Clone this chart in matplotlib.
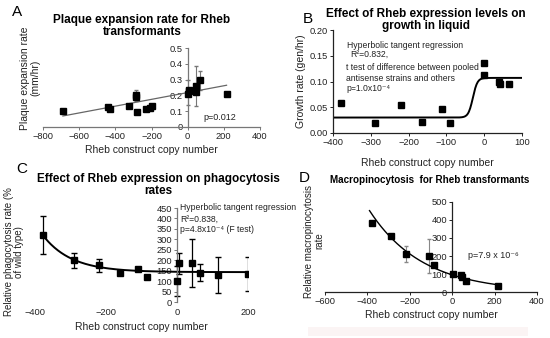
import numpy as np
import matplotlib
matplotlib.use("Agg")
import matplotlib.pyplot as plt
from matplotlib.patches import Rectangle

plt.rcParams['font.family'] = ['Liberation Sans', 'DejaVu Sans']

# ---- panel A: plaque expansion ----
a_x = [-690, -440, -430, -325, -285, -283, -280, -230, -210, -195, 0, 5, 8, 45, 48, 68, 215]
a_y = [0.10, 0.125, 0.115, 0.13, 0.19, 0.20, 0.095, 0.115, 0.12, 0.13, 0.21, 0.235, 0.225, 0.22, 0.26, 0.295, 0.21]
a_err_x = [-283, 0, 48, 68]
a_err_y = [0.20, 0.22, 0.26, 0.295]
a_err = [0.035, 0.08, 0.125, 0.06]
a_fit = [0.000215, 0.218]  # slope, intercept
a_fit_range = [-690, 215]

# ---- panel B: growth in liquid ----
b_x = [-380, -290, -220, -165, -112, -90, 0, 0, 40, 42, 65]
b_y = [0.058, 0.020, 0.055, 0.022, 0.046, 0.020, 0.135, 0.113, 0.100, 0.095, 0.095]
b_fit = [0.0685, 0.0385, -30, 12]  # mid, amp, centre, width (tanh)

# ---- panel C: phagocytosis ----
c_x = [-378, -290, -220, -160, -110, -85, 0, 5, 42, 65, 115, 200]
c_y = [320, 200, 175, 138, 158, 118, 100, 185, 185, 140, 130, 135]
c_err = [90, 35, 30, 0, 0, 0, 70, 50, 115, 40, 85, 80]
c_fit = [143, 177, -378, 80]  # plateau, amp, start, decay

# ---- panel D: macropinocytosis ----
d_x = [-380, -290, -220, -110, -85, 5, 40, 45, 65, 215]
d_y = [385, 310, 210, 200, 150, 98, 95, 85, 60, 35]
d_err_x = [-220, -110]
d_err_y = [210, 200]
d_err = [45, 95]
d_fit = [95, 250]  # amp, decay
d_fit_range = [-390, 220]

W, H = 550, 338
fig = plt.figure(figsize=(5.5, 3.38), dpi=100)


def px_axes(x0, y0, x1, y1):
    return fig.add_axes([x0 / W, 1 - y1 / H, (x1 - x0) / W, (y1 - y0) / H])


def ftext(x, y, s, **kw):
    fig.text(x / W, 1 - y / H, s, **kw)


def style(ax, color):
    for s in ['top', 'right']:
        ax.spines[s].set_visible(False)
    for s in ['left', 'bottom']:
        ax.spines[s].set_color(color)
        ax.spines[s].set_linewidth(0.9)
    ax.tick_params(labelsize=6.7, length=2, width=0.7, color=color, labelcolor='#222', pad=1.5)
    ax.patch.set_alpha(0)


tf = dict(fontsize=8.5, fontweight='bold', ha='center', va='center', linespacing=1.1)
lf = dict(fontsize=7.5, ha='center', va='center', color='#222')
sf = dict(fontsize=6.2, ha='left', va='center', color='#222')
mk = dict(marker='s', ms=4.5, color='black', ls='none', zorder=3)

# panel A
ax = px_axes(43, 48, 260, 127)
style(ax, '#777')
ax.set_xlim(-800, 400)
ax.set_ylim(0, 0.5)
ax.spines['left'].set_position(('data', 0))
ax.set_xticks(range(-800, 401, 200))
ax.set_yticks([0, 0.1, 0.2, 0.3, 0.4, 0.5])
ax.set_yticklabels(['0', '0.1', '0.2', '0.3', '0.4', '0.5'])
ax.errorbar(a_err_x, a_err_y, yerr=a_err, fmt='none', ecolor='#777', elinewidth=0.8, capsize=1.5, zorder=2)
fx = np.array(a_fit_range)
ax.plot(fx, a_fit[0] * fx + a_fit[1], color='#666', lw=0.9, zorder=2)
ax.plot(a_x, a_y, **mk)
ax.set_xlabel('Rheb construct copy number', fontsize=7.5, color='#222', labelpad=3)
ftext(17, 12, 'A', fontsize=11, ha='center', va='center')
ftext(142, 26, 'Plaque expansion rate for Rheb\ntransformants', **tf)
ftext(30, 78, 'Plaque expansion rate\n(mm/hr)', rotation=90, linespacing=1.0, **lf)
ftext(203, 117, 'p=0.012', **dict(sf, fontsize=6.5))

# panel B
ax = px_axes(333, 30, 522, 133)
style(ax, '#222')
ax.set_xlim(-400, 100)
ax.set_ylim(0, 0.2)
ax.set_xticks(range(-400, 101, 100))
ax.set_yticks([0, 0.05, 0.1, 0.15, 0.2])
ax.set_yticklabels(['0.00', '0.05', '0.10', '0.15', '0.20'])
fx = np.linspace(-400, 100, 300)
ax.plot(fx, b_fit[0] + b_fit[1] * np.tanh((fx - b_fit[2]) / b_fit[3]), color='black', lw=1.4, zorder=2)
ax.plot(b_x, b_y, **mk)
ax.set_xlabel('Rheb construct copy number', fontsize=7.5, color='#222', labelpad=8)
ax.set_ylabel('Growth rate (gen/hr)', fontsize=7.5, color='#222', labelpad=3)
ftext(308, 19, 'B', fontsize=11, ha='center', va='center')
ftext(426, 20, 'Effect of Rheb expression levels on\ngrowth in liquid', **tf)
ftext(347, 45, 'Hyperbolic tangent regression', **sf)
ftext(350, 54, 'R²=0.832,', **sf)
ftext(346, 68, 't test of difference between pooled', **sf)
ftext(346, 78.5, 'antisense strains and others', **sf)
ftext(346, 88.5, 'p=1.0x10⁻⁴', **sf)

# panel C
ax = px_axes(35, 208, 248, 302)
style(ax, '#777')
ax.set_xlim(-400, 200)
ax.set_ylim(0, 450)
ax.spines['left'].set_position(('data', 0))
ax.spines['bottom'].set_visible(False)
ax.tick_params(axis='x', length=0, pad=4)
ax.set_xticks([-400, -200, 0, 200])
ax.set_yticks(range(0, 451, 50))
ce_x = [x for x, e in zip(c_x, c_err) if e > 0]
ce_y = [y for y, e in zip(c_y, c_err) if e > 0]
ce = [e for e in c_err if e > 0]
ax.errorbar(ce_x, ce_y, yerr=ce, fmt='none', ecolor='black', elinewidth=0.9, capsize=2, zorder=2)
fx = np.linspace(c_fit[2], 200, 300)
ax.plot(fx, c_fit[0] + c_fit[1] * np.exp(-(fx - c_fit[2]) / c_fit[3]), color='black', lw=1.4, zorder=2)
ax.plot(c_x, c_y, **mk)
ax.set_xlabel('Rheb construct copy number', fontsize=7.5, color='#222', labelpad=4)
ftext(22, 169, 'C', fontsize=11, ha='center', va='center')
ftext(158, 185, 'Effect of Rheb expression on phagocytosis\nrates', **tf)
ftext(14, 252, 'Relative phagocytosis rate (%\nof wild type)', rotation=90, linespacing=1.0,
      **dict(lf, fontsize=7.0))
ftext(180, 208, 'Hyperbolic tangent regression', **sf)
ftext(180, 219, 'R²=0.838,', **sf)
ftext(180, 229, 'p=4.8x10⁻⁴ (F test)', **sf)

# panel D
fig.patches.append(Rectangle((308 / W, 1 - 336 / H), 220 / W, 9 / H, transform=fig.transFigure,
                             facecolor='#fbf4f4', edgecolor='none'))
ax = px_axes(325, 202, 537, 292)
style(ax, '#222')
ax.set_xlim(-600, 400)
ax.set_ylim(0, 500)
ax.spines['left'].set_position(('data', 0))
ax.set_xticks(range(-600, 401, 200))
ax.set_yticks(range(0, 501, 100))
ax.errorbar(d_err_x, d_err_y, yerr=d_err, fmt='none', ecolor='#888', elinewidth=0.8, capsize=1.5, zorder=2)
fx = np.linspace(d_fit_range[0], d_fit_range[1], 300)
ax.plot(fx, d_fit[0] * np.exp(-fx / d_fit[1]), color='black', lw=1.0, zorder=2)
ax.plot(d_x, d_y, **mk)
ax.set_xlabel('Rheb construct copy number', fontsize=7.5, color='#222', labelpad=3)
ftext(304, 178, 'D', fontsize=11, ha='center', va='center')
ftext(430, 180, 'Macropinocytosis  for Rheb transformants', **dict(tf, fontsize=7.1))
ftext(314, 241, 'Relative macropinocytosis\nrate', rotation=90, linespacing=1.0, **dict(lf, fontsize=7.0))
ftext(468, 255, 'p=7.9 x 10⁻⁶', **dict(sf, fontsize=6.5))

fig.savefig('out.png', dpi=100)
